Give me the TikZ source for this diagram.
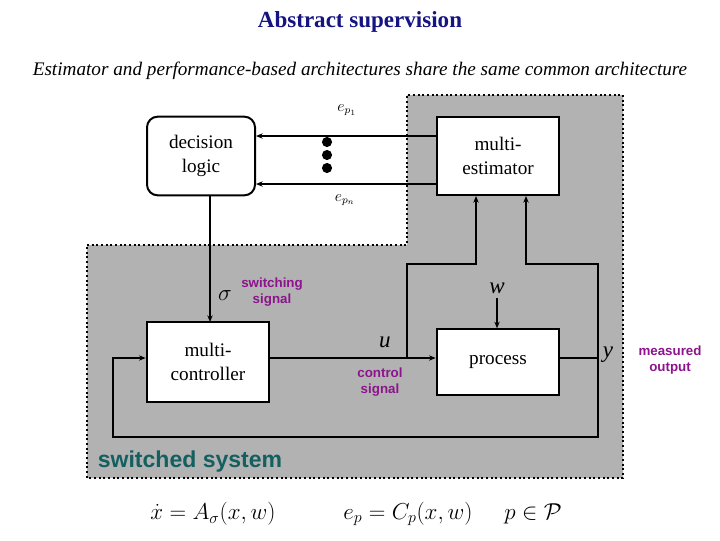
\documentclass[tikz,border=0pt]{standalone}
\usepackage{fontspec}
\setmainfont{Liberation Serif}
\newfontfamily\sansf{Liberation Sans}
\usetikzlibrary{arrows.meta}
\definecolor{navy}{RGB}{20,20,130}
\definecolor{purp}{RGB}{140,20,140}
\definecolor{teal2}{RGB}{20,95,95}
\definecolor{graybg}{RGB}{178,178,178}
\begin{document}
\begin{tikzpicture}[x=0.75pt,y=-0.75pt,
  conn/.style={line width=1.5pt,-{Stealth[length=5pt,width=4pt]}},
  line/.style={line width=1.5pt},
  lab/.style={font=\sansf\bfseries,text=purp,align=center,inner sep=1pt}]
\useasboundingbox (0,0) rectangle (720,540);
\fill[white] (0,0) rectangle (720,540);
\filldraw[fill=graybg,draw=black,line width=1.5pt,dotted]
  (87,245) -- (407,245) -- (407,95) -- (623,95) -- (623,478) -- (87,478) -- cycle;
\node[font=\bfseries\LARGE,text=navy] (title) at (360,22) {Abstract supervision};
\node[font=\itshape\Large] (sub) at (360,71) {Estimator and performance-based architectures share the same common architecture};
\node[draw,line width=1.5pt,fill=white,rounded corners=8pt,minimum width=81pt,minimum height=59pt,align=center,font=\Large] (dl) at (201,156) {decision\\logic};
\node[draw,line width=1.5pt,fill=white,minimum width=92pt,minimum height=59pt,align=center,font=\Large] (me) at (498,156) {multi-\\estimator};
\node[draw,line width=1.5pt,fill=white,minimum width=92pt,minimum height=60pt,align=center,font=\Large] (mc) at (208,362) {multi-\\controller};
\node[draw,line width=1.5pt,fill=white,minimum width=92pt,minimum height=49pt,align=center,font=\Large] (pr) at (498,362) {process};
\draw[conn] ([yshift=15pt]me.west) -- ([yshift=15pt]dl.east);
\draw[conn] ([yshift=-21pt]me.west) -- ([yshift=-21pt]dl.east);
\foreach \yy in {142,155,168} \fill (327,\yy) circle (3.8pt);
\node[font=\large] (ep1) at (347,110) {$e_{p_1}$};
\node[font=\large] (epn) at (345,200) {$e_{p_n}$};
\draw[conn] (210,196) -- (210,322);
\node[font=\LARGE] (sig) at (225,296) {$\sigma$};
\node[lab] (sw) at (272,292) {switching\\signal};
\coordinate (ut) at (407,358);
\coordinate (yt) at (598,358);
\draw[conn] (mc.east |- ut) -- (pr.west |- ut);
\draw[conn] (ut) -- (407,264) -- (476,264) -- (476,196);
\draw[conn] (yt) -- (598,264) -- (526,264) -- (526,196);
\draw[line] (pr.east |- yt) -- (yt);
\draw[conn] (yt) -- (598,437) -- (113,437) -- (113,358) -- (mc.west |- ut);
\node[font=\LARGE\itshape] (u) at (385,342) {u};
\node[lab] (cs) at (380,382) {control\\signal};
\node[font=\LARGE\itshape] (w) at (497,288) {w};
\draw[conn] (w.south) -- (pr.north -| w.south);
\node[font=\LARGE\itshape] (y) at (608,355) {y};
\node[lab] (mo) at (670,360) {measured\\output};
\node[font=\sansf\bfseries\LARGE,text=teal2] (ss) at (190,462) {switched system};
\node[font=\LARGE] (eq1) at (213,514) {$\dot x = A_\sigma(x,w)$};
\node[font=\LARGE] (eq2) at (408,514) {$e_p = C_p(x,w)$};
\node[font=\LARGE] (eq3) at (533,514) {$p\in\mathcal{P}$};
\end{tikzpicture}
\end{document}
